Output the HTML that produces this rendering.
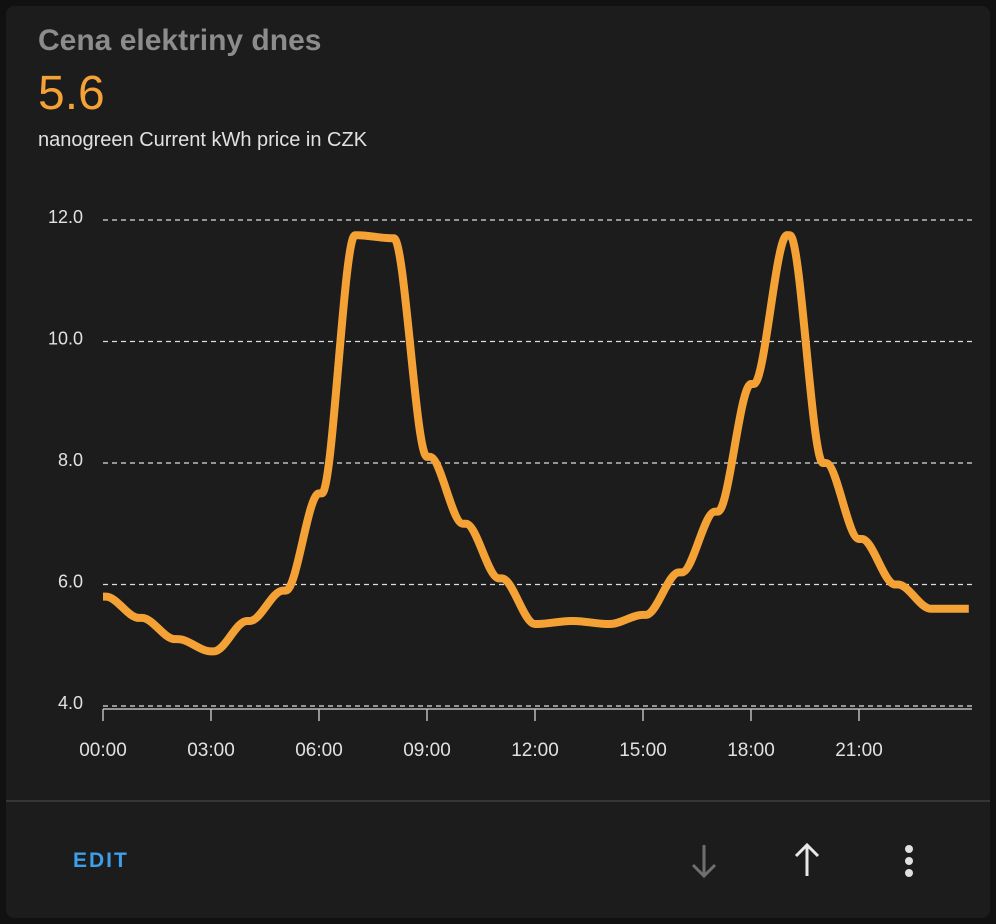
<!DOCTYPE html>
<html><head><meta charset="utf-8">
<style>
body{margin:0;background:#111;width:996px;height:924px;overflow:hidden;font-family:"Liberation Sans",sans-serif;}
#card{position:absolute;left:6px;top:6px;width:984px;height:912px;background:#1c1c1c;border-radius:8px;}
#title{position:absolute;left:38px;top:24px;font-size:30px;color:#8c8c8c;font-weight:bold;}
#value{position:absolute;left:38px;top:66px;font-size:48px;color:#f4a236;}
#sub{position:absolute;left:38px;top:129px;font-size:20px;color:#e1e1e1;}
#divider{position:absolute;width:984px;height:2px;background:#363636;}
#edit{position:absolute;left:73px;top:849px;font-size:21px;color:#3d9ee9;letter-spacing:2px;font-weight:bold;}
svg{position:absolute;left:0;top:0;}
</style></head><body>
<div id="card"></div>
<div id="title">Cena elektriny dnes</div>
<div id="value">5.6</div>
<div id="sub">nanogreen Current kWh price in CZK</div>
<svg id="chart" width="996" height="924"></svg>
<div id="divider" style="left:6px;top:800px"></div>
<div id="edit">EDIT</div>
<svg width="996" height="924" style="pointer-events:none">
<g stroke="#6f6f6f" stroke-width="3" fill="none"><path d="M704 845V876M693 865L704 876L715 865"/></g>
<g stroke="#e8e8e8" stroke-width="3" fill="none"><path d="M807 876V845M796 856L807 845L818 856"/></g>
<g fill="#e0e0e0"><circle cx="909" cy="849" r="4"/><circle cx="909" cy="861" r="4"/><circle cx="909" cy="873" r="4"/></g>
</svg>
<script>
const hours=[0,1,2,3,4,5,6,7,8,9,10,11,12,13,14,15,16,17,18,19,20,21,22,23];
const prices=[5.8,5.45,5.1,4.9,5.4,5.9,7.5,11.75,11.7,8.1,7.0,6.1,5.35,5.4,5.35,5.5,6.2,7.2,9.3,11.75,8.0,6.75,6.0,5.6];
const yTicks=[4,6,8,10,12];
const xTickLabels=["00:00","03:00","06:00","09:00","12:00","15:00","18:00","21:00"];
const NS="http://www.w3.org/2000/svg";
const svg=document.getElementById('chart');
const X=h=>103+h*36.0, Y=v=>706-(v-4)*60.75;
function mk(t,a){const e=document.createElementNS(NS,t);for(const k in a)e.setAttribute(k,a[k]);svg.appendChild(e);return e;}
yTicks.forEach(v=>{
 const l=mk('line',{x1:103,x2:972,y1:Y(v),y2:Y(v),stroke:'#ddd','stroke-width':1.3,'stroke-dasharray':'5,4'});
 
 const t=mk('text',{x:83,y:Y(v)+3,'text-anchor':'end','font-size':18,fill:'#e1e1e1','font-family':'Liberation Sans'});
 t.textContent=v.toFixed(1);
});
const ax=mk('line',{x1:103,x2:972,y1:709,y2:709,stroke:'#bbb','stroke-width':1.5});

xTickLabels.forEach((s,i)=>{
 const h=i*3;
 const tk=mk('line',{x1:X(h),x2:X(h),y1:709,y2:721,stroke:'#bbb','stroke-width':1.5});
 
 const t=mk('text',{x:X(h),y:756,'text-anchor':'middle','font-size':19,fill:'#e1e1e1','font-family':'Liberation Sans'});
 t.textContent=s;
});
const px=[],py=[];
hours.forEach((h,i)=>{
 px.push(X(h));py.push(Y(prices[i]));
 const e=(i==hours.length-1)?24.05:h+0.08;
 px.push(X(e));py.push(Y(prices[i]));
});
const n=px.length,d=[],m=[];
for(let i=0;i<n-1;i++)d.push((py[i+1]-py[i])/(px[i+1]-px[i]));
for(let i=0;i<n;i++){
 if(i==0)m.push(d[0]);else if(i==n-1)m.push(d[n-2]);
 else m.push(d[i-1]*d[i]<=0?0:2/(1/d[i-1]+1/d[i]));
}
let p=`M${px[0]},${py[0]}`;
for(let i=0;i<n-1;i++){const h=(px[i+1]-px[i])/3;
 p+=`C${px[i]+h},${py[i]+m[i]*h} ${px[i+1]-h},${py[i+1]-m[i+1]*h} ${px[i+1]},${py[i+1]}`;}
const ln=mk('path',{d:p,fill:'none',stroke:'#f4a236','stroke-width':8,'stroke-linejoin':'round'});

</script>
</body></html>
